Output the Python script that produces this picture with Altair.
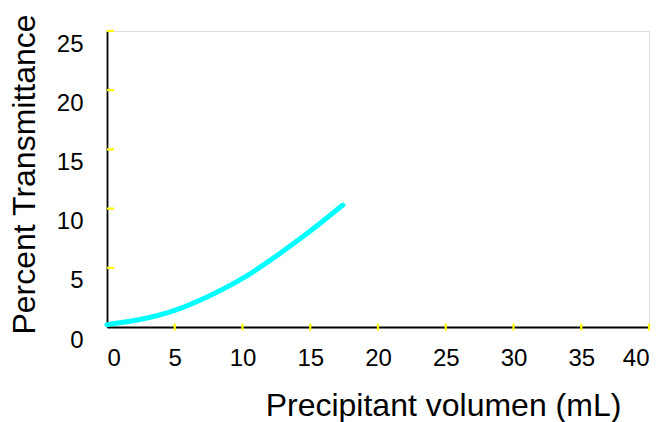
import altair as alt
import pandas as pd

# data
volume = [0, 2.5, 5, 7.5, 10, 12.5, 15, 17.4]
transmittance = [0.2, 0.65, 1.4, 2.6, 4.1, 6.0, 8.1, 10.3]
x_tick_values = [5, 10, 15, 20, 25, 30, 35, 40]
y_tick_values = [5, 10, 15, 20, 25]
x_label_values = [0, 5, 10, 15, 20, 25, 30, 35, 40]
y_label_values = [0, 5, 10, 15, 20, 25]

df = pd.DataFrame({"vol": volume, "pt": transmittance})
xt = pd.DataFrame({"t": x_tick_values})
yt = pd.DataFrame({"t": y_tick_values})

FONT = "Liberation Sans"

xscale = alt.Scale(domain=[0, 40], nice=False, zero=True)
yscale = alt.Scale(domain=[0, 25], nice=False, zero=True)

xaxis = alt.Axis(
    values=x_label_values, grid=False, ticks=False, tickSize=0,
    domainColor="#000000", domainWidth=1.8,
    labelFont=FONT, labelFontSize=24, labelColor="#000000", labelPadding=19,
    title="Precipitant volumen (mL)", titleFont=FONT, titleFontSize=32,
    titleFontWeight="normal", titleColor="#000000",
    titleX=336, titleY=88, titleAlign="center", titleBaseline="alphabetic",
)
yaxis = alt.Axis(
    values=y_label_values, grid=False, ticks=False, tickSize=0,
    domainColor="#000000", domainWidth=1.8,
    labelFont=FONT, labelFontSize=24, labelColor="#000000", labelPadding=24,
    labelOffset=13,
    title="Percent Transmittance", titleFont=FONT, titleFontSize=32,
    titleFontWeight="normal", titleColor="#000000",
    titleX=-73, titleY=143, titleAlign="center", titleBaseline="alphabetic",
    titleAngle=270,
)

line = alt.Chart(df).mark_line(
    color="#00ffff", strokeWidth=5, strokeCap="round", interpolate="natural"
).encode(
    x=alt.X("vol:Q", scale=xscale, axis=xaxis),
    y=alt.Y("pt:Q", scale=yscale, axis=yaxis),
)

xticks = alt.Chart(xt).mark_tick(
    orient="vertical", color="#ffff00", size=7, thickness=2.2, opacity=1
).encode(
    x=alt.X("t:Q", scale=xscale),
    y=alt.YDatum(0),
)

yticks = alt.Chart(yt).mark_tick(
    orient="horizontal", color="#ffff00", size=7, thickness=2.2, opacity=1, xOffset=3.5
).encode(
    y=alt.Y("t:Q", scale=yscale),
    x=alt.XDatum(0),
)

chart = alt.layer(line, xticks, yticks).properties(
    width=542, height=296,
    autosize=alt.AutoSizeParams(type="none"),
    padding={"left": 107, "top": 31, "right": 14, "bottom": 95},
).configure_view(stroke=None).configure(background="#ffffff")

chart.save("out.html", embed_options={"renderer": "svg", "actions": False})
